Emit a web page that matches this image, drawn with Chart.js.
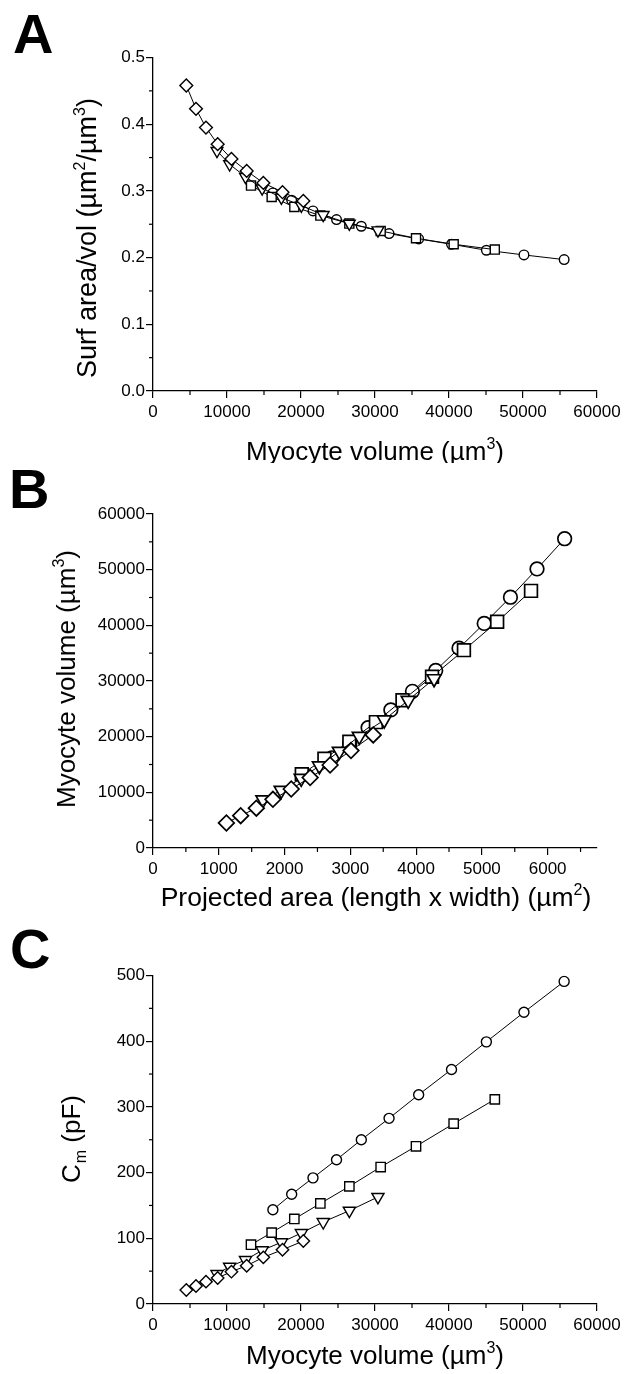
<!DOCTYPE html>
<html>
<head>
<meta charset="utf-8">
<script src="https://cdn.jsdelivr.net/npm/chart.js@4.4.1/dist/chart.umd.min.js"></script>
<style>
html,body{margin:0;padding:0;background:#fff;}
body{width:627px;height:1374px;position:relative;overflow:hidden;font-family:"Liberation Sans",Arial,sans-serif;color:#000;}
canvas{position:absolute;left:0;top:0;}
.t{position:absolute;font-size:26px;line-height:26px;white-space:nowrap;}
.sup{font-size:16px;position:relative;top:-11px;}
.sub{font-size:16px;position:relative;top:6px;margin-left:1px;}
.rot{transform:translate(-50%,-50%) rotate(-90deg);}
.hx{transform:translateX(-50%);}
.letter{position:absolute;font-weight:bold;font-size:56px;line-height:56px;}
#clipA{position:absolute;left:0;top:0;width:627px;height:463px;overflow:hidden;}
</style>
</head>
<body>
<canvas id="cA" width="627" height="1374"></canvas>
<canvas id="cB" width="627" height="1374"></canvas>
<canvas id="cC" width="627" height="1374"></canvas>

<div class="letter" style="left:13px;top:6px;">A</div>
<div class="letter" style="left:9px;top:461px;">B</div>
<div class="letter" style="left:10px;top:921px;">C</div>

<div class="t rot" style="left:89px;top:238px;font-size:27px;">Surf area/vol (µm<span class="sup">2</span>/µm<span class="sup">3</span>)</div>
<div id="clipA"><div class="t hx" style="left:375px;top:438px;">Myocyte volume (µm<span class="sup">3</span>)</div></div>

<div class="t rot" style="left:68px;top:679px;">Myocyte volume (µm<span class="sup">3</span>)</div>
<div class="t hx" style="left:376px;top:884px;font-size:26.5px;">Projected area (length x width) (µm<span class="sup">2</span>)</div>

<div class="t rot" style="left:73px;top:1139px;">C<span class="sub">m</span> (pF)</div>
<div class="t hx" style="left:375px;top:1342px;">Myocyte volume (µm<span class="sup">3</span>)</div>

<script>
// ---------- data ----------
// Myocyte volume (µm^3) of each cell in the four series
const VOL_CIRCLE   = [16200, 18740, 21620, 24800, 28150, 31900, 35900, 40340, 45050, 50130, 55560];
const VOL_SQUARE   = [13243, 16036, 19099, 22613, 26532, 30766, 35541, 40631, 46190];
const VOL_TRIANGLE = [8650, 10350, 12500, 14750, 17350, 20050, 23000, 26532, 30400];
const VOL_DIAMOND  = [4500, 5810, 7160, 8740, 10600, 12660, 14910, 17500, 20315];

// Panel A: surface area / volume (µm^2/µm^3)
const SV_CIRCLE   = [0.297, 0.286, 0.270, 0.257, 0.247, 0.236, 0.228, 0.220, 0.211, 0.204, 0.197];
const SV_SQUARE   = [0.308, 0.291, 0.276, 0.263, 0.251, 0.240, 0.229, 0.220, 0.212];
const SV_TRIANGLE = [0.360, 0.340, 0.321, 0.304, 0.290, 0.278, 0.264, 0.251, 0.241];
const SV_DIAMOND  = [0.458, 0.423, 0.395, 0.370, 0.348, 0.330, 0.312, 0.298, 0.285];

// Panel B: projected area (length x width) (µm^2)
const AREA_CIRCLE   = [2720, 2990, 3270, 3616, 3944, 4298, 4652, 5035, 5434, 5838, 6258];
const AREA_SQUARE   = [2262, 2606, 2985, 3389, 3793, 4242, 4727, 5232, 5747];
const AREA_TRIANGLE = [1671, 1949, 2253, 2530, 2833, 3136, 3515, 3879, 4273];
const AREA_DIAMOND  = [1116, 1333, 1571, 1823, 2101, 2389, 2692, 3010, 3348];

// Panel C: membrane capacitance Cm (pF)
const CM_CIRCLE   = [143.5, 167, 192, 219.6, 250, 282.6, 318.6, 357, 399, 444, 491];
const CM_SQUARE   = [90.3, 108.6, 129.4, 153, 179, 208.5, 240, 274.5, 311.5];
const CM_TRIANGLE = [45.7, 56.8, 67, 81.7, 93.9, 108, 124.8, 142, 162.9];
const CM_DIAMOND  = [21.3, 27.4, 34, 39.6, 49.2, 58.3, 71, 82.6, 95.9];

// Tick labels
const VOL_TICKS  = [0, 10000, 20000, 30000, 40000, 50000, 60000];
const SV_TICKS   = [0.0, 0.1, 0.2, 0.3, 0.4, 0.5];
const AREA_TICKS = [0, 1000, 2000, 3000, 4000, 5000, 6000];
const CM_TICKS   = [0, 100, 200, 300, 400, 500];

// ---------- rendering ----------
const H = 1374;
const FONT = {family: '"Liberation Sans", Arial, sans-serif', size: 17};

const minorTicks = {
  id: 'minorTicks',
  afterDraw(chart, args, opts) {
    const ctx = chart.ctx, ca = chart.chartArea;
    ctx.save();
    ctx.strokeStyle = '#000';
    ctx.lineWidth = 1.2;
    ['x', 'y'].forEach(k => {
      const s = chart.scales[k];
      const ticks = opts[k];
      const step = ticks[1] - ticks[0];
      ticks.forEach(t => {
        const v = t + step / 2;
        if (v > s.max + 1e-9) return;
        const p = s.getPixelForValue(v);
        ctx.beginPath();
        if (k === 'x') { ctx.moveTo(p, ca.bottom); ctx.lineTo(p, ca.bottom + 4); }
        else { ctx.moveTo(ca.left, p); ctx.lineTo(ca.left - 4, p); }
        ctx.stroke();
      });
    });
    ctx.restore();
  }
};

function axis(min, max, ticks, fmt, horiz) {
  return {
    type: 'linear', min: min, max: max,
    position: horiz ? 'bottom' : 'left',
    afterBuildTicks: s => { s.ticks = ticks.map(v => ({value: v})); },
    afterFit: s => { if (horiz) s.height = 40; else s.width = 153; },
    grid: {display: true, drawOnChartArea: false, drawTicks: true, tickLength: 7, color: '#000', lineWidth: 1.2},
    border: {display: true, color: '#000', width: 1.3},
    ticks: {font: FONT, color: '#000', padding: horiz ? 4 : 1, maxRotation: 0, autoSkip: false, callback: fmt}
  };
}

function panel(id, top, bottom, xa, ya, series, radii, pbw) {
  return new Chart(document.getElementById(id), {
    type: 'scatter',
    data: {
      datasets: series.map(s => ({
        data: s.x.map((x, i) => ({x: x, y: s.y[i]})),
        showLine: true,
        borderColor: '#000',
        borderWidth: 1,
        tension: 0,
        fill: false,
        pointStyle: s.style,
        rotation: s.rot || 0,
        pointRadius: radii[s.style],
        pointBackgroundColor: '#fff',
        pointBorderColor: '#000',
        pointBorderWidth: pbw
      }))
    },
    options: {
      responsive: false,
      animation: false,
      events: [],
      layout: {padding: {left: 0, right: 30, top: top, bottom: H - bottom - 40}},
      plugins: {
        legend: {display: false},
        tooltip: {enabled: false},
        minorTicks: {x: xa.ticksArr, y: ya.ticksArr}
      },
      scales: {x: xa.cfg, y: ya.cfg}
    },
    plugins: [minorTicks]
  });
}

const intFmt = v => String(v);
const decFmt = v => Number(v).toFixed(1);

function ax(min, max, ticks, fmt, horiz) { return {cfg: axis(min, max, ticks, fmt, horiz), ticksArr: ticks}; }

// Panel A
panel('cA', 57.5, 391,
  ax(0, 60000, VOL_TICKS, intFmt, true),
  ax(0, 0.5, SV_TICKS, decFmt, false),
  [
    {x: VOL_DIAMOND, y: SV_DIAMOND, style: 'rectRot'},
    {x: VOL_TRIANGLE, y: SV_TRIANGLE, style: 'triangle', rot: 180},
    {x: VOL_SQUARE, y: SV_SQUARE, style: 'rect'},
    {x: VOL_CIRCLE, y: SV_CIRCLE, style: 'circle'}
  ],
  {circle: 4.8, rect: 6.4, rectRot: 6.4, triangle: 6.8}, 1.4);

// Panel B
panel('cB', 514, 848,
  ax(0, 6750, AREA_TICKS, intFmt, true),
  ax(0, 60000, VOL_TICKS, intFmt, false),
  [
    {x: AREA_DIAMOND, y: VOL_DIAMOND, style: 'rectRot'},
    {x: AREA_TRIANGLE, y: VOL_TRIANGLE, style: 'triangle', rot: 180},
    {x: AREA_SQUARE, y: VOL_SQUARE, style: 'rect'},
    {x: AREA_CIRCLE, y: VOL_CIRCLE, style: 'circle'}
  ],
  {circle: 6.8, rect: 9, rectRot: 7.8, triangle: 8}, 1.7);

// Panel C
panel('cC', 975.5, 1304,
  ax(0, 60000, VOL_TICKS, intFmt, true),
  ax(0, 500, CM_TICKS, intFmt, false),
  [
    {x: VOL_DIAMOND, y: CM_DIAMOND, style: 'rectRot'},
    {x: VOL_TRIANGLE, y: CM_TRIANGLE, style: 'triangle', rot: 180},
    {x: VOL_SQUARE, y: CM_SQUARE, style: 'rect'},
    {x: VOL_CIRCLE, y: CM_CIRCLE, style: 'circle'}
  ],
  {circle: 5, rect: 6.6, rectRot: 6.2, triangle: 7}, 1.4);
</script>
</body>
</html>
